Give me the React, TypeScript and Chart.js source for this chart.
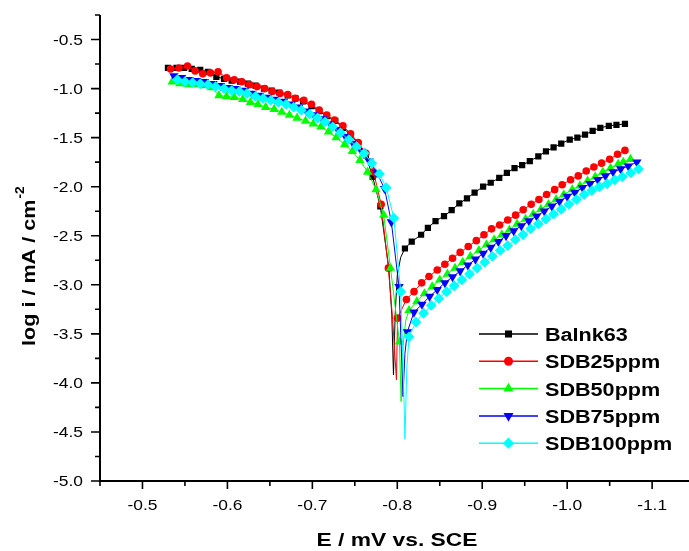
import { useEffect, useRef } from 'react';
import { Chart, registerables } from 'chart.js';

Chart.register(...registerables);

// ---------- series meta ----------
const seriesNames = ['Balnk63', 'SDB25ppm', 'SDB50ppm', 'SDB75ppm', 'SDB100ppm'];
const seriesColors = ['#000000', '#ff0000', '#00ff00', '#0000ff', '#00ffff'];
const seriesMarkers = ['rect', 'circle', 'triangle', 'triangleDown', 'rectRot'];
const markerRadius = [4.4, 3.8, 5.4, 5.4, 5.4];

// ---------- Balnk63 ----------
const blankCathE = [-0.530, -0.540, -0.549, -0.558, -0.568, -0.577, -0.587, -0.596, -0.605, -0.615, -0.624, -0.633, -0.643, -0.652, -0.661, -0.671, -0.680, -0.689, -0.699, -0.708, -0.717, -0.727, -0.736, -0.745, -0.754, -0.763, -0.771, -0.780, -0.790];
const blankCathLog = [-0.79, -0.79, -0.79, -0.80, -0.81, -0.83, -0.88, -0.90, -0.92, -0.93, -0.95, -0.97, -1.00, -1.02, -1.04, -1.07, -1.10, -1.13, -1.18, -1.23, -1.28, -1.33, -1.40, -1.47, -1.56, -1.68, -1.90, -2.20, -2.83];
const blankTipE = [-0.7935, -0.7955, -0.7975, -0.800, -0.804];
const blankTipLog = [-3.30, -3.92, -3.30, -2.90, -2.72];
const blankAnE = [-0.809, -0.817, -0.828, -0.836, -0.845, -0.855, -0.864, -0.873, -0.882, -0.891, -0.901, -0.910, -0.920, -0.929, -0.938, -0.947, -0.956, -0.966, -0.975, -0.984, -0.993, -1.003, -1.012, -1.021, -1.030, -1.039, -1.049, -1.058, -1.068];
const blankAnLog = [-2.63, -2.56, -2.49, -2.42, -2.35, -2.30, -2.24, -2.17, -2.12, -2.06, -2.00, -1.96, -1.91, -1.86, -1.81, -1.78, -1.74, -1.69, -1.64, -1.60, -1.56, -1.52, -1.50, -1.47, -1.43, -1.40, -1.38, -1.37, -1.36];

// ---------- SDB25ppm ----------
const sdb25CathE = [-0.533, -0.543, -0.553, -0.562, -0.571, -0.580, -0.589, -0.599, -0.608, -0.617, -0.626, -0.635, -0.644, -0.653, -0.662, -0.671, -0.680, -0.690, -0.699, -0.708, -0.717, -0.726, -0.736, -0.745, -0.754, -0.763, -0.772, -0.781, -0.7895];
const sdb25CathLog = [-0.80, -0.79, -0.77, -0.82, -0.85, -0.84, -0.83, -0.89, -0.91, -0.93, -0.96, -0.98, -1.00, -1.03, -1.05, -1.06, -1.10, -1.12, -1.16, -1.22, -1.27, -1.32, -1.38, -1.46, -1.55, -1.66, -1.85, -2.18, -2.83];
const sdb25TipE = [-0.7945, -0.7990];
const sdb25TipLog = [-3.35, -3.97];
const sdb25AnE = [-0.8003, -0.8107, -0.8197, -0.8287, -0.8373, -0.847, -0.856, -0.865, -0.874, -0.8835, -0.893, -0.902, -0.911, -0.9205, -0.930, -0.9393, -0.9482, -0.9576, -0.9667, -0.9758, -0.9852, -0.9941, -1.004, -1.013, -1.0224, -1.0314, -1.0405, -1.050, -1.0593, -1.068];
const sdb25AnLog = [-3.34, -3.15, -3.07, -2.98, -2.915, -2.85, -2.79, -2.73, -2.67, -2.61, -2.55, -2.49, -2.43, -2.39, -2.34, -2.29, -2.235, -2.18, -2.13, -2.08, -2.03, -1.98, -1.93, -1.89, -1.84, -1.80, -1.76, -1.72, -1.67, -1.63];

// ---------- SDB50ppm ----------
const sdb50CathE = [-0.535, -0.544, -0.553, -0.562, -0.572, -0.581, -0.590, -0.599, -0.608, -0.618, -0.627, -0.636, -0.645, -0.655, -0.664, -0.673, -0.682, -0.692, -0.701, -0.710, -0.719, -0.728, -0.738, -0.747, -0.756, -0.765, -0.775, -0.784, -0.792, -0.8025];
const sdb50CathLog = [-0.93, -0.95, -0.96, -0.96, -0.97, -0.99, -1.07, -1.08, -1.09, -1.11, -1.14, -1.16, -1.19, -1.21, -1.24, -1.27, -1.30, -1.33, -1.36, -1.39, -1.44, -1.50, -1.57, -1.64, -1.73, -1.85, -2.03, -2.29, -2.83, -3.58];
const sdb50TipE = [-0.8045, -0.807, -0.810];
const sdb50TipLog = [-4.19, -3.60, -3.36];
const sdb50AnE = [-0.8138, -0.823, -0.832, -0.841, -0.850, -0.859, -0.868, -0.877, -0.886, -0.896, -0.905, -0.914, -0.923, -0.932, -0.941, -0.951, -0.960, -0.969, -0.978, -0.987, -0.996, -1.006, -1.015, -1.024, -1.033, -1.042, -1.051, -1.060, -1.066, -1.0745];
const sdb50AnLog = [-3.26, -3.17, -3.09, -3.02, -2.95, -2.89, -2.83, -2.77, -2.71, -2.65, -2.59, -2.54, -2.49, -2.44, -2.38, -2.33, -2.28, -2.23, -2.18, -2.13, -2.08, -2.03, -1.99, -1.94, -1.90, -1.85, -1.81, -1.77, -1.75, -1.72];

// ---------- SDB75ppm ----------
const sdb75CathE = [-0.537, -0.546, -0.555, -0.564, -0.573, -0.583, -0.592, -0.601, -0.610, -0.620, -0.629, -0.638, -0.647, -0.656, -0.666, -0.675, -0.684, -0.693, -0.702, -0.712, -0.721, -0.730, -0.739, -0.748, -0.758, -0.767, -0.776, -0.785, -0.793, -0.802];
const sdb75CathLog = [-0.87, -0.89, -0.91, -0.92, -0.93, -0.95, -0.97, -0.99, -1.00, -1.02, -1.05, -1.07, -1.09, -1.11, -1.13, -1.16, -1.19, -1.23, -1.27, -1.31, -1.36, -1.42, -1.49, -1.56, -1.64, -1.74, -1.86, -2.02, -2.36, -3.02];
const sdb75TipE = [-0.8045, -0.8067, -0.809];
const sdb75TipLog = [-3.60, -4.14, -3.70];
const sdb75AnE = [-0.8118, -0.8196, -0.829, -0.838, -0.847, -0.856, -0.865, -0.874, -0.883, -0.892, -0.901, -0.910, -0.919, -0.928, -0.937, -0.946, -0.955, -0.964, -0.973, -0.982, -0.991, -1.000, -1.009, -1.018, -1.027, -1.036, -1.045, -1.054, -1.063, -1.072, -1.082];
const sdb75AnLog = [-3.48, -3.28, -3.20, -3.12, -3.05, -2.98, -2.92, -2.86, -2.80, -2.74, -2.68, -2.62, -2.56, -2.50, -2.45, -2.40, -2.35, -2.30, -2.25, -2.20, -2.15, -2.10, -2.06, -2.01, -1.97, -1.93, -1.89, -1.85, -1.82, -1.79, -1.75];

// ---------- SDB100ppm ----------
const sdb100CathE = [-0.541, -0.550, -0.559, -0.568, -0.577, -0.586, -0.596, -0.605, -0.614, -0.623, -0.633, -0.642, -0.651, -0.660, -0.669, -0.678, -0.687, -0.697, -0.706, -0.715, -0.724, -0.733, -0.743, -0.752, -0.761, -0.770, -0.779, -0.787, -0.796, -0.804];
const sdb100CathLog = [-0.91, -0.93, -0.94, -0.95, -0.96, -0.98, -1.00, -1.02, -1.03, -1.05, -1.08, -1.10, -1.12, -1.14, -1.16, -1.19, -1.22, -1.26, -1.30, -1.34, -1.39, -1.45, -1.52, -1.59, -1.66, -1.76, -1.87, -2.01, -2.32, -3.07];
const sdb100TipE = [-0.8068, -0.809, -0.8112];
const sdb100TipLog = [-3.80, -4.57, -3.85];
const sdb100AnE = [-0.8138, -0.822, -0.831, -0.840, -0.849, -0.858, -0.867, -0.876, -0.885, -0.894, -0.903, -0.912, -0.921, -0.930, -0.939, -0.948, -0.957, -0.966, -0.975, -0.984, -0.993, -1.002, -1.011, -1.020, -1.029, -1.038, -1.047, -1.056, -1.065, -1.075, -1.084];
const sdb100AnLog = [-3.53, -3.38, -3.29, -3.21, -3.14, -3.07, -3.01, -2.95, -2.89, -2.83, -2.77, -2.71, -2.65, -2.60, -2.54, -2.49, -2.43, -2.38, -2.33, -2.28, -2.23, -2.18, -2.13, -2.08, -2.04, -2.00, -1.97, -1.93, -1.90, -1.86, -1.82];

// ---------- axes ----------
const xMin = -1.15;
const xMax = -0.45;
const yMin = -5.0;
const yMax = -0.25;
const xTickValues = [-0.5, -0.6, -0.7, -0.8, -0.9, -1.0, -1.1];
const xTickLabels = ['-0.5', '-0.6', '-0.7', '-0.8', '-0.9', '-1.0', '-1.1'];
const xMinorValues = [-0.45, -0.55, -0.65, -0.75, -0.85, -0.95, -1.05, -1.15];
const yTickValues = [-0.5, -1.0, -1.5, -2.0, -2.5, -3.0, -3.5, -4.0, -4.5, -5.0];
const yTickLabels = ['-0.5', '-1.0', '-1.5', '-2.0', '-2.5', '-3.0', '-3.5', '-4.0', '-4.5', '-5.0'];
const yMinorValues = [-0.25, -0.75, -1.25, -1.75, -2.25, -2.75, -3.25, -3.75, -4.25, -4.75];
const xTitle = 'E / mV vs. SCE';
const yTitle = 'log i / mA / cm';
const yTitleSup = '-2';

const FONT = '"Liberation Sans", Arial, Helvetica, sans-serif';

type Seg = [number[], number[]];
const seriesSegments: [Seg, Seg, Seg][] = [
  [[blankCathE, blankCathLog], [blankTipE, blankTipLog], [blankAnE, blankAnLog]],
  [[sdb25CathE, sdb25CathLog], [sdb25TipE, sdb25TipLog], [sdb25AnE, sdb25AnLog]],
  [[sdb50CathE, sdb50CathLog], [sdb50TipE, sdb50TipLog], [sdb50AnE, sdb50AnLog]],
  [[sdb75CathE, sdb75CathLog], [sdb75TipE, sdb75TipLog], [sdb75AnE, sdb75AnLog]],
  [[sdb100CathE, sdb100CathLog], [sdb100TipE, sdb100TipLog], [sdb100AnE, sdb100AnLog]],
];

function zip(seg: Seg) {
  return seg[0].map((x, i) => ({ x, y: seg[1][i] }));
}

// text drawn slightly widened along its baseline
function drawText(
  ctx: CanvasRenderingContext2D,
  text: string,
  x: number,
  y: number,
  font: string,
  sx: number,
  align: CanvasTextAlign,
  rot = 0,
) {
  ctx.save();
  ctx.translate(x, y);
  if (rot) ctx.rotate(rot);
  ctx.scale(sx, 1);
  ctx.font = font;
  ctx.textAlign = align;
  ctx.textBaseline = 'alphabetic';
  ctx.fillStyle = '#000';
  ctx.fillText(text, 0, 0);
  ctx.restore();
}

function drawMarker(ctx: CanvasRenderingContext2D, style: string, x: number, y: number, r: number, color: string) {
  ctx.save();
  ctx.fillStyle = color;
  ctx.beginPath();
  if (style === 'rect') {
    const s = r * Math.SQRT1_2;
    ctx.rect(x - s, y - s, 2 * s, 2 * s);
  } else if (style === 'circle') {
    ctx.arc(x, y, r, 0, Math.PI * 2);
  } else if (style === 'triangle' || style === 'triangleDown') {
    const d = style === 'triangle' ? 1 : -1;
    const h = r * 0.5;
    ctx.moveTo(x, y - d * r);
    ctx.lineTo(x + r * 0.866, y + d * h);
    ctx.lineTo(x - r * 0.866, y + d * h);
    ctx.closePath();
  } else {
    ctx.moveTo(x, y - r);
    ctx.lineTo(x + r, y);
    ctx.lineTo(x, y + r);
    ctx.lineTo(x - r, y);
    ctx.closePath();
  }
  ctx.fill();
  ctx.restore();
}

const framePlugin = {
  id: 'tafelFrame',
  afterDraw(chart: any) {
    const ctx: CanvasRenderingContext2D = chart.ctx;
    const xs = chart.scales.x;
    const ys = chart.scales.y;
    const { left, right, top, bottom } = chart.chartArea;
    ctx.save();
    ctx.strokeStyle = '#000';
    ctx.lineWidth = 2;
    ctx.beginPath();
    ctx.moveTo(left, top);
    ctx.lineTo(left, bottom + 1);
    ctx.moveTo(left - 1, bottom);
    ctx.lineTo(right + 10, bottom);
    ctx.stroke();

    ctx.lineWidth = 1.6;
    ctx.beginPath();
    yTickValues.forEach((v) => {
      const py = ys.getPixelForValue(v);
      ctx.moveTo(left - 9, py);
      ctx.lineTo(left, py);
    });
    yMinorValues.forEach((v) => {
      const py = ys.getPixelForValue(v);
      ctx.moveTo(left - 5, py);
      ctx.lineTo(left, py);
    });
    xTickValues.forEach((v) => {
      const px = xs.getPixelForValue(v);
      ctx.moveTo(px, bottom);
      ctx.lineTo(px, bottom + 8);
    });
    xMinorValues.forEach((v) => {
      const px = xs.getPixelForValue(v);
      ctx.moveTo(px, bottom);
      ctx.lineTo(px, bottom + 5);
    });
    ctx.stroke();

    const tickFont = `15px ${FONT}`;
    yTickValues.forEach((v, i) => {
      drawText(ctx, yTickLabels[i], 83, ys.getPixelForValue(v) + 5.4, tickFont, 1.16, 'right');
    });
    xTickValues.forEach((v, i) => {
      drawText(ctx, xTickLabels[i], xs.getPixelForValue(v), bottom + 29, tickFont, 1.16, 'center');
    });

    // axis titles
    drawText(ctx, xTitle, 397, 546, `bold 19px ${FONT}`, 1.2, 'center');
    const yFont = `bold 18px ${FONT}`;
    ctx.font = yFont;
    const w = ctx.measureText(yTitle).width * 1.2;
    drawText(ctx, yTitle, 35, 346, yFont, 1.2, 'left', -Math.PI / 2);
    drawText(ctx, yTitleSup, 24, 346 - w - 1, `bold 12px ${FONT}`, 1.15, 'left', -Math.PI / 2);

    // legend
    const legendTop = 334;
    const rowH = 27.3;
    const legendR = [5, 4.5, 5.8, 5.8, 5.6];
    seriesNames.forEach((name, i) => {
      const cy = legendTop + i * rowH;
      ctx.strokeStyle = seriesColors[i];
      ctx.lineWidth = 1.5;
      ctx.beginPath();
      ctx.moveTo(479, cy);
      ctx.lineTo(538, cy);
      ctx.stroke();
      drawMarker(ctx, seriesMarkers[i], 508.5, cy, legendR[i], seriesColors[i]);
      drawText(ctx, name, 545, cy + 7, `bold 18px ${FONT}`, 1.2, 'left');
    });
    ctx.restore();
  },
};

export default function App() {
  const canvasRef = useRef<HTMLCanvasElement | null>(null);

  useEffect(() => {
    if (!canvasRef.current) return;
    const datasets = seriesSegments.map((segs, i) => {
      const [cath, tip, an] = segs;
      const data = [...zip(cath), ...zip(tip), ...zip(an)];
      const radii = [
        ...cath[0].map(() => markerRadius[i]),
        ...tip[0].map(() => 0),
        ...an[0].map(() => markerRadius[i]),
      ];
      const style = seriesMarkers[i] === 'triangleDown' ? 'triangle' : seriesMarkers[i];
      return {
        label: seriesNames[i],
        data,
        showLine: true,
        borderColor: seriesColors[i],
        backgroundColor: seriesColors[i],
        borderWidth: 1,
        tension: 0,
        pointStyle: style,
        pointRotation: seriesMarkers[i] === 'triangleDown' ? 180 : 0,
        pointRadius: radii,
        pointBorderWidth: 0,
        pointBackgroundColor: seriesColors[i],
        order: 5 - i,
      };
    });

    const chart = new Chart(canvasRef.current, {
      type: 'scatter',
      data: { datasets: datasets as any },
      options: {
        animation: false,
        responsive: false,
        maintainAspectRatio: false,
        devicePixelRatio: 1,
        layout: { padding: { left: 100, right: 5, top: 15, bottom: 70 } },
        plugins: { legend: { display: false }, tooltip: { enabled: false } },
        events: [],
        scales: {
          x: { type: 'linear', reverse: true, min: xMin, max: xMax, display: false },
          y: { type: 'linear', min: yMin, max: yMax, display: false },
        },
      },
      plugins: [framePlugin],
    });
    return () => chart.destroy();
  }, []);

  return (
    <div
      style={{
        position: 'fixed',
        left: 0,
        top: 0,
        width: 689,
        height: 551,
        overflow: 'hidden',
        background: '#fff',
      }}
    >
      <canvas ref={canvasRef} width={700} height={551} style={{ display: 'block', width: 700, height: 551 }} />
    </div>
  );
}
